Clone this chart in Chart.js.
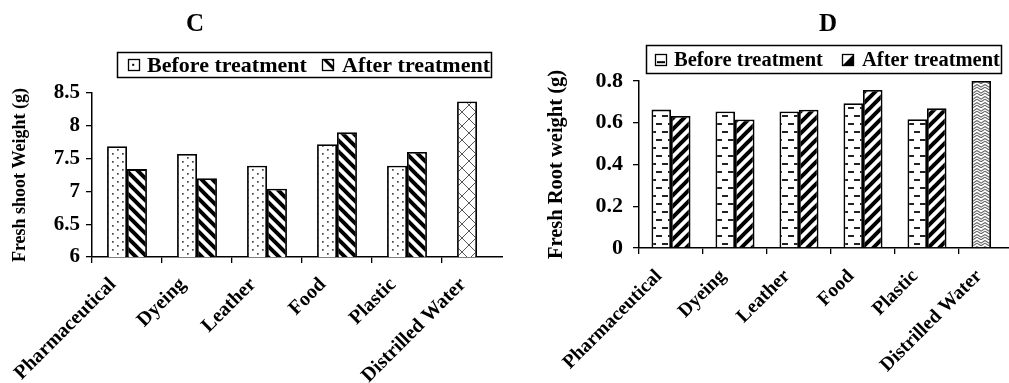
<!DOCTYPE html>
<html><head><meta charset="utf-8">
<script src="https://cdn.jsdelivr.net/npm/chart.js@4.4.1/dist/chart.umd.min.js"></script>
<style>
html,body{margin:0;padding:0;background:#fff;width:1009px;height:383px;overflow:hidden}
.panel{position:absolute;top:0;height:383px;overflow:hidden}
#pc{left:0;width:503px}
#pd{left:505px;width:504px}
canvas{display:block}
</style></head><body>
<div class="panel" id="pc"><canvas id="cC" width="512" height="383"></canvas></div>
<div class="panel" id="pd"><canvas id="cD" width="518" height="383"></canvas></div>
<script>
// ---------- data ----------
const categories = ['Pharmaceutical', 'Dyeing', 'Leather', 'Food', 'Plastic', 'Distrilled Water'];
const seriesNames = ['Before treatment', 'After treatment'];
const shootBefore = [7.69, 7.57, 7.39, 7.72, 7.39, 8.37];
const shootAfter  = [7.34, 7.20, 7.04, 7.90, 7.60, null];
const rootBefore  = [0.663, 0.654, 0.654, 0.694, 0.617, 0.80];
const rootAfter   = [0.632, 0.616, 0.662, 0.757, 0.669, null];
const shootTicks = [6, 6.5, 7, 7.5, 8, 8.5];
const shootTickLabels = ['6', '6.5', '7', '7.5', '8', '8.5'];
const rootTicks = [0, 0.2, 0.4, 0.6, 0.8];
const rootTickLabels = ['0', '0.2', '0.4', '0.6', '0.8'];
const titleC = 'C', titleD = 'D';
const yTitleC = 'Fresh shoot Weight (g)';
const yTitleD = 'Fresh Root weight (g)';

// ---------- patterns ----------
const FONT = '"Liberation Serif", "Times New Roman", serif';
function tile(w, h, draw) {
  const c = document.createElement('canvas'); c.width = w; c.height = h;
  const x = c.getContext('2d'); x.fillStyle = '#fff'; x.fillRect(0, 0, w, h); draw(x, w, h); return c;
}
function pat(ctx, t) { return ctx.createPattern(t, 'repeat'); }
const dotsTile = tile(10, 8, (x) => { x.fillStyle = '#444'; x.fillRect(2, 1, 1.7, 1.7); x.fillRect(7, 5, 1.7, 1.7); });
function diagTile(p, lw, down) {
  return tile(p, p, (x) => {
    x.strokeStyle = '#000'; x.lineWidth = lw; x.lineCap = 'square';
    for (let k = -1; k <= 1; k++) {
      x.beginPath();
      if (down) { x.moveTo(k * p, 0); x.lineTo(k * p + p, p); }
      else { x.moveTo(k * p, p); x.lineTo(k * p + p, 0); }
      x.stroke();
    }
  });
}
const backTile = diagTile(11, 4, true);
const fwdTile = diagTile(11, 4, false);
const diamondTile = tile(14, 14, (x) => {
  x.strokeStyle = '#555'; x.lineWidth = 1;
  x.beginPath(); x.moveTo(0, 0); x.lineTo(14, 14); x.moveTo(0, 14); x.lineTo(14, 0); x.stroke();
});
const dashTile = tile(12, 16, (x) => {
  x.fillStyle = '#222'; x.fillRect(1, 3, 6, 2); x.fillRect(7, 11, 5, 2); x.fillRect(0, 11, 1, 2);
});
const zigTile = tile(8, 6, (x) => {
  x.strokeStyle = '#666'; x.lineWidth = 1.1;
  for (const o of [0.5, 3.2]) { x.beginPath(); x.moveTo(0, o); x.lineTo(4, o + 2.6); x.lineTo(8, o); x.stroke(); }
});

// ---------- legend markers ----------
function boxMarker(ctx, x, y, s, inner) {
  ctx.fillStyle = '#fff'; ctx.fillRect(x, y, s, s);
  inner(ctx, x, y, s);
  ctx.strokeStyle = '#000'; ctx.lineWidth = 1.3; ctx.strokeRect(x + 0.5, y + 0.5, s - 1, s - 1);
}
const markC = [
  (c, x, y, s) => boxMarker(c, x, y, s, (c, x, y, s) => { c.fillStyle = '#000'; c.fillRect(x + s * 0.35, y + s * 0.4, 2, 2); }),
  (c, x, y, s) => boxMarker(c, x, y, s, (c, x, y, s) => { c.fillStyle = '#000'; c.beginPath(); c.moveTo(x, y); c.lineTo(x + s, y); c.lineTo(x + s, y + s); c.closePath(); c.fill(); c.fillStyle='#fff'; c.beginPath(); c.moveTo(x+s*0.35,y); c.lineTo(x+s,y+s*0.65); c.lineTo(x+s,y+s*0.3); c.lineTo(x+s*0.7,y); c.closePath(); c.fill(); })
];
const markD = [
  (c, x, y, s) => boxMarker(c, x, y, s, (c, x, y, s) => { c.fillStyle = '#000'; c.fillRect(x + 2, y + s * 0.6, s - 4, 2); }),
  (c, x, y, s) => boxMarker(c, x, y, s, (c, x, y, s) => { c.fillStyle = '#000'; c.beginPath(); c.moveTo(x + s, y); c.lineTo(x + s, y + s); c.lineTo(x, y + s); c.closePath(); c.fill(); })
];

function decor(cfg) {
  return {
    id: 'decor',
    afterDraw(chart) {
      const ctx = chart.ctx; ctx.save();
      ctx.fillStyle = '#000'; ctx.textAlign = 'center'; ctx.textBaseline = 'middle';
      ctx.font = 'bold 25px ' + FONT; ctx.fillText(cfg.title, cfg.titleX, cfg.titleY);
      const b = cfg.box;
      ctx.strokeStyle = '#000'; ctx.lineWidth = 1.5; ctx.strokeRect(b.x + 0.5, b.y + 0.5, b.w, b.h);
      const cy = b.y + b.h / 2 + 0.5;
      ctx.font = 'bold ' + cfg.legendSize + 'px ' + FONT; ctx.textAlign = 'left';
      cfg.items.forEach((it, i) => {
        cfg.markers[i](ctx, it.mx, Math.round(cy - 6), 12);
        ctx.fillStyle = '#000'; ctx.fillText(seriesNames[i], it.tx, cy + 1);
      });
      ctx.restore();
    }
  };
}

function makeChart(id, opt) {
  const canvas = document.getElementById(id);
  const ctx = canvas.getContext('2d');
  const bgBefore = opt.before.map((v, i) => pat(ctx, i === opt.before.length - 1 ? opt.tiles[2] : opt.tiles[0]));
  const bgAfter = pat(ctx, opt.tiles[1]);
  const tickFont = { family: FONT, weight: 'bold', size: opt.tickSize };
  return new Chart(ctx, {
    type: 'bar',
    data: {
      labels: categories,
      datasets: [
        { label: seriesNames[0], data: opt.before, backgroundColor: bgBefore, borderColor: '#000', borderWidth: 1.8, borderSkipped: 'start' },
        { label: seriesNames[1], data: opt.after, backgroundColor: bgAfter, borderColor: '#000', borderWidth: 1.8, borderSkipped: 'start' }
      ]
    },
    options: {
      responsive: false, animation: false, events: [],
      categoryPercentage: opt.catPct, barPercentage: 1,
      layout: { padding: { top: opt.top, left: 0, right: 0, bottom: 0 } },
      plugins: { legend: { display: false }, title: { display: false }, tooltip: { enabled: false } },
      scales: {
        x: {
          offset: true,
          grid: { display: true, drawOnChartArea: false, offset: true, color: '#000', tickLength: 6, lineWidth: 1.3 },
          border: { display: true, color: '#000', width: 1.5 },
          ticks: { color: '#000', font: { family: FONT, weight: 'bold', size: opt.xSize }, minRotation: 45, maxRotation: 45, autoSkip: false, padding: opt.xPad, labelOffset: opt.xOff },
          afterFit(s) { s.height = 383 - opt.bottom; }
        },
        y: {
          min: opt.ticks[0], max: opt.ticks[opt.ticks.length - 1],
          afterBuildTicks(s) { s.ticks = opt.ticks.map(v => ({ value: v })); },
          grid: { display: true, drawOnChartArea: false, color: '#000', tickLength: 6, lineWidth: 1.3 },
          border: { display: true, color: '#000', width: 1.5 },
          ticks: { color: '#000', font: tickFont, padding: opt.yPad, callback: (v, i) => opt.tickLabels[i] },
          title: { display: true, text: opt.yTitle, color: '#000', font: { family: FONT, weight: 'bold', size: opt.yTitleSize }, padding: { top: opt.titlePad, bottom: 0 } },
          afterFit(s) { s.width = opt.left; }
        }
      }
    },
    plugins: [decor(opt.decor)]
  });
}

makeChart('cC', {
  before: shootBefore, after: shootAfter, ticks: shootTicks, tickLabels: shootTickLabels,
  tiles: [dotsTile, backTile, diamondTile], catPct: 0.57,
  top: 93, bottom: 257, left: 92, tickSize: 21, xSize: 20, xPad: 10, xOff: -14, yPad: 6, titlePad: 10,
  yTitle: yTitleC, yTitleSize: 18,
  decor: { title: titleC, titleX: 195, titleY: 25, legendSize: 22,
    box: { x: 117, y: 52, w: 374, h: 25 }, markers: markC,
    items: [{ mx: 128, tx: 147 }, { mx: 322, tx: 342 }] }
});
makeChart('cD', {
  before: rootBefore, after: rootAfter, ticks: rootTicks, tickLabels: rootTickLabels,
  tiles: [dashTile, fwdTile, zigTile], catPct: 0.61,
  top: 81, bottom: 248, left: 134, tickSize: 22, xSize: 19.5, xPad: 11, xOff: -12, yPad: 10, titlePad: 39,
  yTitle: yTitleD, yTitleSize: 20.5,
  decor: { title: titleD, titleX: 323, titleY: 25, legendSize: 20.5,
    box: { x: 141, y: 45, w: 355, h: 28 }, markers: markD,
    items: [{ mx: 150, tx: 169 }, { mx: 337, tx: 357 }] }
});
</script>
</body></html>
